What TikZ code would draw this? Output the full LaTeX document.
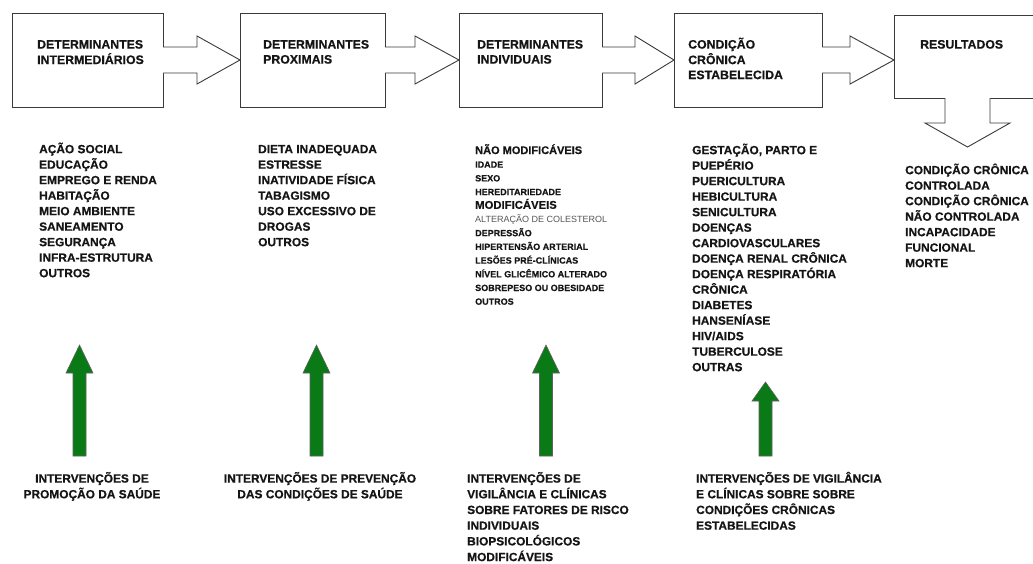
\documentclass[tikz,border=0pt]{standalone}
\usepackage{fontspec}
\setmainfont{Liberation Sans}[BoldFeatures={FakeBold=0.6}]
\usetikzlibrary{calc}
\definecolor{txt}{HTML}{151515}
\definecolor{edge}{HTML}{3A3A3A}
\definecolor{grnfill}{RGB}{10,122,22}
\definecolor{graytxt}{HTML}{555555}
\newcommand\blockarrow[3]{%
  \draw[blk] ($(#1.east)+(0,-13)$) -- ++(#3,0) -- ++(0,-11) -- (#2.west |- #1.east)
    -- ($(#1.east)+(#3,24)$) -- ++(0,-11) -- ($(#1.east)+(0,13)$);}
\newcommand\greenarrow[5]{%
  \coordinate (#1) at (#2,#3);
  \draw[grn] ({#2-6.5},#5) -- ({#2-6.5},#4) -- ({#2-13.5},#4) -- (#1)
    -- ({#2+13.5},#4) -- ({#2+6.5},#4) -- ({#2+6.5},#5) -- cycle;}
\newcommand\rows[1]{\begin{tabular}[t]{@{}l@{}}#1\end{tabular}}
\newcommand\crows[1]{\begin{tabular}[t]{@{}c@{}}#1\end{tabular}}
\begin{document}
\begin{tikzpicture}[x=1pt,y=-1pt,
  box/.style={draw=edge, line width=0.9pt, fill=white, rectangle, outer sep=0pt, inner sep=0pt},
  blk/.style={draw=edge, line width=0.9pt, fill=white, line join=miter},
  grn/.style={draw=edge!80, line width=0.6pt, fill=grnfill},
  title/.style={anchor=base west, inner sep=0pt, text=txt, font=\bfseries\fontsize{12.3}{15}\selectfont},
  lst/.style={anchor=base west, inner sep=0pt, text=txt, font=\bfseries\fontsize{11.9}{15.5}\selectfont},
  small/.style={anchor=base west, inner sep=0pt, text=txt, font=\bfseries\fontsize{9}{13.7}\selectfont},
  clst/.style={anchor=base, inner sep=0pt, text=txt, font=\bfseries\fontsize{11.9}{15.7}\selectfont},
  llst/.style={anchor=base west, inner sep=0pt, text=txt, font=\bfseries\fontsize{11.9}{15.7}\selectfont}]
\useasboundingbox (0,0) rectangle (1033,563);

% boxes
\node[box, minimum width=151, minimum height=94] (b1) at (87.5,60) {};
\node[box, minimum width=145, minimum height=94] (b2) at (312.5,60) {};
\node[box, minimum width=143, minimum height=94] (b3) at (530.5,60) {};
\node[box, minimum width=148, minimum height=94] (b4) at (748,60) {};
\node[box, minimum width=147, minimum height=83] (b5) at (967.5,56.5) {};

\node[title] (t1) at (37,48.6) {\rows{DETERMINANTES\\INTERMEDIÁRIOS}};
\node[title] (t2) at (263,48.6) {\rows{DETERMINANTES\\PROXIMAIS}};
\node[title] (t3) at (477,48.6) {\rows{DETERMINANTES\\INDIVIDUAIS}};
\node[title] (t4) at (688,48.6) {\rows{CONDIÇÃO\\CRÔNICA\\ESTABELECIDA}};
\node[title] (t5) at (920,48.6) {RESULTADOS};

% block arrows
\blockarrow{b1}{b2}{34}
\blockarrow{b2}{b3}{30}
\blockarrow{b3}{b4}{33}
\blockarrow{b4}{b5}{28}
\coordinate (dtip) at (967.5,147);
\draw[blk] ($(b5.south)+(-22.5,0)$) -- ++(0,25) -- ++(-20,0) -- (dtip)
  -- ($(b5.south)+(42.5,25)$) -- ++(-20,0) -- ($(b5.south)+(22.5,0)$);

% lists
\node[lst] (l1) at (39,153.2) {\rows{AÇÃO SOCIAL\\EDUCAÇÃO\\EMPREGO E RENDA\\HABITAÇÃO\\MEIO AMBIENTE\\SANEAMENTO\\SEGURANÇA\\INFRA-ESTRUTURA\\OUTROS}};
\node[lst] (l2) at (258,153.2) {\rows{DIETA INADEQUADA\\ESTRESSE\\INATIVIDADE FÍSICA\\TABAGISMO\\USO EXCESSIVO DE\\DROGAS\\OUTROS}};
\node[small] (l3) at (475,154) {\rows{\smash{\fontsize{11}{13.7}\selectfont NÃO MODIFICÁVEIS}\\IDADE\\SEXO\\HEREDITARIEDADE\\\smash{\fontsize{11.3}{13.7}\selectfont MODIFICÁVEIS}\\{\mdseries\color{graytxt}ALTERAÇÃO DE COLESTEROL}\\DEPRESSÃO\\HIPERTENSÃO ARTERIAL\\LESÕES PRÉ-CLÍNICAS\\NÍVEL GLICÊMICO ALTERADO\\SOBREPESO OU OBESIDADE\\OUTROS}};
\node[lst] (l4) at (692,154.2) {\rows{GESTAÇÃO, PARTO E\\PUEPÉRIO\\PUERICULTURA\\HEBICULTURA\\SENICULTURA\\DOENÇAS\\CARDIOVASCULARES\\DOENÇA RENAL CRÔNICA\\DOENÇA RESPIRATÓRIA\\CRÔNICA\\DIABETES\\HANSENÍASE\\HIV/AIDS\\TUBERCULOSE\\OUTRAS}};
\node[lst] (l5) at (905,174.2) {\rows{CONDIÇÃO CRÔNICA\\CONTROLADA\\CONDIÇÃO CRÔNICA\\NÃO CONTROLADA\\INCAPACIDADE\\FUNCIONAL\\MORTE}};

% green arrows
\greenarrow{g1}{79.5}{345}{373}{456}
\greenarrow{g2}{316.5}{345}{373}{456}
\greenarrow{g3}{546}{345}{373}{456}
\greenarrow{g4}{765.5}{382}{401}{456}

% interventions
\node[clst] (i1) at (92,482.6) {\crows{INTERVENÇÕES DE\\PROMOÇÃO DA SAÚDE}};
\node[clst] (i2) at (320,482.6) {\crows{INTERVENÇÕES DE PREVENÇÃO\\DAS CONDIÇÕES DE SAÚDE}};
\node[llst] (i3) at (467,482.6) {\rows{INTERVENÇÕES DE\\VIGILÂNCIA E CLÍNICAS\\SOBRE FATORES DE RISCO\\INDIVIDUAIS\\BIOPSICOLÓGICOS\\MODIFICÁVEIS}};
\node[llst] (i4) at (696,482.6) {\rows{INTERVENÇÕES DE VIGILÂNCIA\\E CLÍNICAS SOBRE SOBRE\\CONDIÇÕES CRÔNICAS\\ESTABELECIDAS}};
\end{tikzpicture}
\end{document}
